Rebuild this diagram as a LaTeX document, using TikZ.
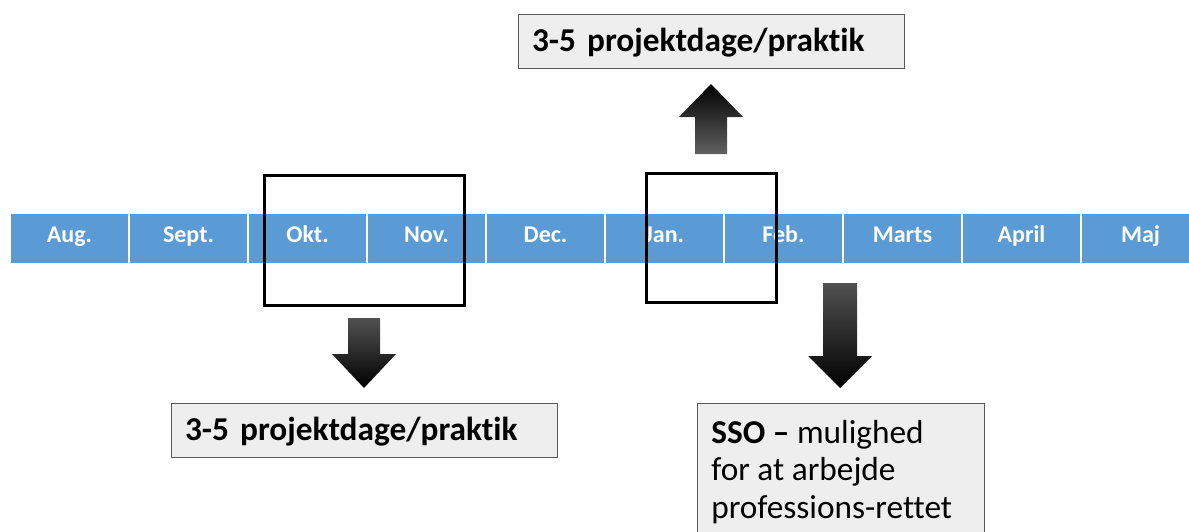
\documentclass[tikz,border=0pt]{standalone}
\usepackage{fontspec}
\setmainfont{Carlito}[Ligatures=NoCommon]
\definecolor{monthblue}{HTML}{5B9BD5}
\definecolor{boxgray}{HTML}{EEEEEE}
\definecolor{boxline}{HTML}{595959}
\begin{document}
\begin{tikzpicture}[x=0.75pt,y=-0.75pt,
  month/.style={rectangle, fill=monthblue, draw=white, line width=1.5pt,
    minimum width=89.25pt, minimum height=38.25pt, inner sep=0pt,
    text=white, font=\fontsize{18}{18}\selectfont\bfseries,
    text height=11.6pt, text depth=5.6pt},
  hilite/.style={rectangle, draw=black, line width=2.25pt, inner sep=0pt},
  infobox/.style={rectangle, fill=boxgray, draw=boxline, line width=0.75pt},
  titlebox/.style={infobox, minimum width=289.5pt, minimum height=40.5pt,
    text width=268.5pt, align=left, inner xsep=10.5pt, inner ysep=0pt,
    font=\fontsize{25}{25}\selectfont\bfseries, text height=16.1pt, text depth=1pt},
  downarrow/.style={top color=black!68, bottom color=black, draw=none},
  uparrow/.style={top color=black, bottom color=black!62, draw=none}
]
\useasboundingbox (0,0) rectangle (1189,532);

% timeline
\foreach \m [count=\i from 0] in {Aug.,Sept.,Okt.,Nov.,Dec.,Jan.,Feb.,Marts,April,Maj}
  \node[month] (m\i) at ({69.5+119*\i},238.5) {\m};

% highlight frames
\node[hilite, minimum width=150pt, minimum height=97.5pt] (hl1) at (364,240) {};
\node[hilite, minimum width=97.5pt, minimum height=96.75pt] (hl2) at (711,237.5) {};

% text boxes
\node[titlebox] (top) at (711,41) {3-5 projektdage/praktik};
\node[titlebox] (bottom) at (364,430) {3-5 projektdage/praktik};
\node[infobox, anchor=north west, minimum width=215.25pt, minimum height=135pt, inner sep=0pt] (sso) at (697,403) {};
\node[anchor=north west, inner sep=0pt, align=left, font=\fontsize{25}{28}\selectfont]
  (ssotext) at (711,417) {\strut\textbf{SSO –} mulighed\\for at arbejde\\professions-rettet};

% block arrows
\path[downarrow] (348,318) -- (380,318) -- (380,354) -- (396,354) -- (364,388)
  -- (332,354) -- (348,354) -- cycle;
\path[downarrow] (823,283) -- (857,283) -- (857,356) -- (872,356) -- (840,388)
  -- (808,356) -- (823,356) -- cycle;
\path[uparrow] (711,84) -- (743,117) -- (727,117) -- (727,154) -- (695,154)
  -- (695,117) -- (679,117) -- cycle;
\end{tikzpicture}
\end{document}
